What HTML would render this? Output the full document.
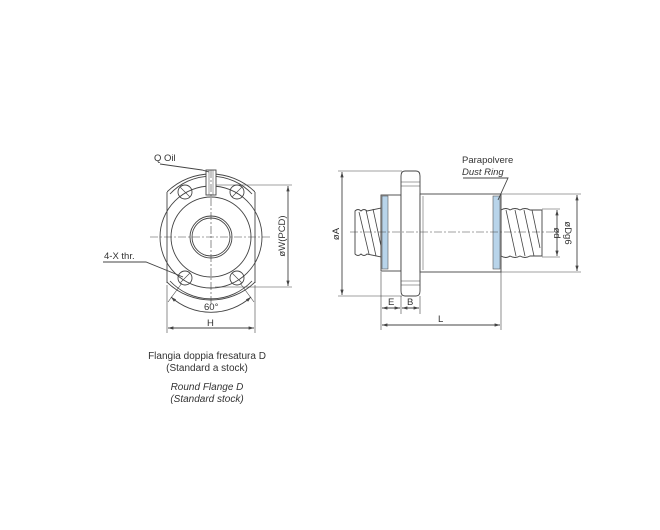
<!DOCTYPE html>
<html><head><meta charset="utf-8"><style>
html,body{margin:0;padding:0;background:#fff}
svg{display:block}
text{font-family:"Liberation Sans",sans-serif;fill:#333}
</style></head><body>
<svg width="660" height="530" viewBox="0 0 660 530" xmlns="http://www.w3.org/2000/svg">
<defs>
<marker id="a" viewBox="0 0 10 10" refX="10" refY="5" markerWidth="6" markerHeight="6" orient="auto-start-reverse"><path d="M0,2 L10,5 L0,8z" fill="#444"/></marker>
<clipPath id="fl"><rect x="167" y="160" width="88" height="160"/></clipPath>
</defs>
<g stroke="#444" stroke-width="0.9" fill="none">
<!-- LEFT VIEW -->
<circle cx="211" cy="237" r="63" clip-path="url(#fl)"/>
<line x1="167" y1="192" x2="167" y2="283"/>
<line x1="255" y1="192" x2="255" y2="283"/>
<circle cx="211" cy="237" r="51"/>
<circle cx="211" cy="237" r="40"/>
<circle cx="211" cy="237" r="21"/>
<circle cx="211" cy="237" r="19"/>
<path d="M170,194 A56,56 0 0 1 252,194"/>
<path d="M170,281 A56,56 0 0 0 252,281"/>
<circle cx="185" cy="192" r="7"/><circle cx="237" cy="192" r="7"/>
<circle cx="185" cy="278" r="7"/><circle cx="237" cy="278" r="7"/>
<g stroke-width="0.6"><line x1="180" y1="187" x2="190" y2="197"/><line x1="242" y1="187" x2="232" y2="197"/><line x1="180" y1="283" x2="190" y2="273"/><line x1="242" y1="283" x2="232" y2="273"/></g>
<rect x="206" y="170" width="10" height="25" fill="#fff"/>
<line x1="209" y1="170" x2="209" y2="195" stroke-width="0.5"/><line x1="213" y1="170" x2="213" y2="195" stroke-width="0.5"/>
<g stroke-dasharray="8,2,2,2" stroke-width="0.6"><line x1="150" y1="237" x2="272" y2="237"/><line x1="211" y1="170" x2="211" y2="305"/></g>
<polyline points="160,164 202,170 209,172"/>
<polyline points="103,262 146,262 183,277"/>
<line x1="216" y1="185" x2="292" y2="185" stroke-width="0.6"/>
<line x1="215" y1="287" x2="292" y2="287" stroke-width="0.6"/>
<line x1="288" y1="186" x2="288" y2="286" marker-start="url(#a)" marker-end="url(#a)"/>
<path d="M171,297 A60,60 0 0 0 251,297" marker-start="url(#a)" marker-end="url(#a)"/>
<line x1="182" y1="283" x2="168" y2="302" stroke-width="0.6"/><line x1="240" y1="283" x2="254" y2="302" stroke-width="0.6"/>
<line x1="167" y1="285" x2="167" y2="333" stroke-width="0.6"/><line x1="255" y1="285" x2="255" y2="333" stroke-width="0.6"/>
<line x1="168" y1="328" x2="254" y2="328" marker-start="url(#a)" marker-end="url(#a)"/>
<!-- RIGHT VIEW -->
<path d="M355,211 Q358,208 361,211 Q364,208 367,211 L381,208 L381,257 L367,254 Q364,257 361,254 Q358,257 355,254 Z"/>
<g stroke-width="0.8"><line x1="359" y1="212" x2="369" y2="254"/><line x1="366" y1="210" x2="376" y2="256"/><line x1="373" y1="209" x2="381" y2="246"/></g>
<path d="M501,210 Q506,207 510,210 Q515,207 520,210 Q525,207 530,210 L542,210 L542,256 L530,256 Q525,259 520,256 Q515,259 510,256 Q506,259 501,256 Z"/>
<g stroke-width="0.8"><line x1="506" y1="210" x2="516" y2="256"/><line x1="515" y1="210" x2="525" y2="256"/><line x1="524" y1="210" x2="534" y2="256"/><line x1="532" y1="210" x2="540" y2="248"/></g>
<rect x="381" y="195" width="20" height="76" fill="#fff"/>
<rect x="382" y="196" width="6" height="73" fill="#b8d4ea" stroke="#555" stroke-width="0.6"/>
<path d="M405,171 L416,171 Q420,171 420,176 L420,291 Q420,296 416,296 L405,296 Q401,296 401,291 L401,176 Q401,171 405,171 Z" fill="#fff"/>
<g stroke-width="0.5"><line x1="401" y1="182" x2="420" y2="182"/><line x1="401" y1="186" x2="420" y2="186"/><line x1="401" y1="281" x2="420" y2="281"/><line x1="401" y1="285" x2="420" y2="285"/></g>
<rect x="420" y="194" width="81" height="78" fill="#fff"/>
<line x1="423" y1="196" x2="423" y2="270" stroke-width="0.5"/>
<rect x="493" y="196" width="7" height="73" fill="#b8d4ea" stroke="#555" stroke-width="0.6"/>
<line x1="350" y1="232" x2="560" y2="232" stroke-dasharray="8,2,2,2" stroke-width="0.6"/>
<line x1="338" y1="171" x2="402" y2="171" stroke-width="0.6"/><line x1="338" y1="296" x2="402" y2="296" stroke-width="0.6"/>
<line x1="342" y1="172" x2="342" y2="295" marker-start="url(#a)" marker-end="url(#a)"/>
<line x1="501" y1="194" x2="581" y2="194" stroke-width="0.6"/><line x1="501" y1="272" x2="581" y2="272" stroke-width="0.6"/>
<line x1="577" y1="195" x2="577" y2="271" marker-start="url(#a)" marker-end="url(#a)"/>
<line x1="542" y1="209" x2="560" y2="209" stroke-width="0.6"/><line x1="542" y1="257" x2="560" y2="257" stroke-width="0.6"/>
<line x1="557" y1="210" x2="557" y2="256" marker-start="url(#a)" marker-end="url(#a)"/>
<line x1="381" y1="272" x2="381" y2="330" stroke-width="0.6"/><line x1="401" y1="296" x2="401" y2="314" stroke-width="0.6"/><line x1="420" y1="296" x2="420" y2="314" stroke-width="0.6"/><line x1="501" y1="272" x2="501" y2="330" stroke-width="0.6"/>
<line x1="382" y1="308" x2="400" y2="308" marker-start="url(#a)" marker-end="url(#a)"/>
<line x1="402" y1="308" x2="419" y2="308" marker-start="url(#a)" marker-end="url(#a)"/>
<line x1="382" y1="325" x2="500" y2="325" marker-start="url(#a)" marker-end="url(#a)"/>
<polyline points="463,178 508,178 498,200"/>
</g>
<g font-size="9.5">
<text x="154" y="161">Q Oil</text>
<text x="104" y="259">4-X thr.</text>
<text x="204" y="310">60°</text>
<text x="207" y="326">H</text>
<text transform="translate(285,236) rotate(-90)" text-anchor="middle">øW(PCD)</text>
<text transform="translate(339,234) rotate(-90)" text-anchor="middle">øA</text>
<text transform="translate(554,233) rotate(90)" text-anchor="middle">ød</text>
<text transform="translate(565,233) rotate(90)" text-anchor="middle">øDg6</text>
<text x="388" y="305">E</text><text x="407" y="305">B</text>
<text x="438" y="322">L</text>
<text x="462" y="163">Parapolvere</text>
<text x="462" y="175" font-style="italic">Dust Ring</text>
</g>
<g font-size="10" text-anchor="middle">
<text x="207" y="359">Flangia doppia fresatura D</text>
<text x="207" y="371">(Standard a stock)</text>
<text x="207" y="390" font-style="italic">Round Flange D</text>
<text x="207" y="402" font-style="italic">(Standard stock)</text>
</g>
</svg>
</body></html>
